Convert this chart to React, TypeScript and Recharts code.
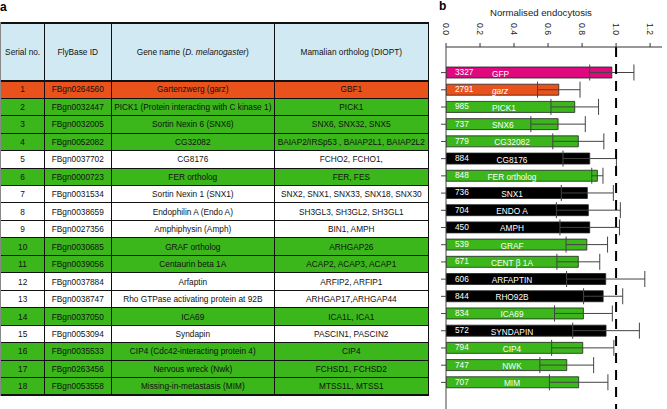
import { Bar, BarChart, Cell, ErrorBar, LabelList, ReferenceLine, XAxis, YAxis } from "recharts";

// panel a: table
const serialNos = ["1", "2", "3", "4", "5", "6", "7", "8", "9", "10", "11", "12", "13", "14", "15", "16", "17", "18"];
const flyBaseIds = [
  "FBgn0264560", "FBgn0032447", "FBgn0032005", "FBgn0052082", "FBgn0037702", "FBgn0000723",
  "FBgn0031534", "FBgn0038659", "FBgn0027356", "FBgn0030685", "FBgn0039056", "FBgn0037884",
  "FBgn0038747", "FBgn0037050", "FBgn0053094", "FBgn0035533", "FBgn0263456", "FBgn0053558",
];
const geneNames = [
  "Gartenzwerg (garz)", "PICK1 (Protein interacting with C kinase 1)", "Sortin Nexin 6 (SNX6)", "CG32082",
  "CG8176", "FER ortholog", "Sortin Nexin 1 (SNX1)", "Endophilin A (Endo A)", "Amphiphysin (Amph)",
  "GRAF ortholog", "Centaurin beta 1A", "Arfaptin", "Rho GTPase activating protein at 92B", "ICA69",
  "Syndapin", "CIP4 (Cdc42-interacting protein 4)", "Nervous wreck (Nwk)", "Missing-in-metastasis (MIM)",
];
const orthologs = [
  "GBF1", "PICK1", "SNX6, SNX32, SNX5", "BAIAP2/IRSp53 , BAIAP2L1, BAIAP2L2", "FCHO2, FCHO1,", "FER, FES",
  "SNX2, SNX1, SNX33, SNX18, SNX30", "SH3GL3, SH3GL2, SH3GL1", "BIN1, AMPH", "ARHGAP26", "ACAP2, ACAP3, ACAP1",
  "ARFIP2, ARFIP1", "ARHGAP17,ARHGAP44", "ICA1L, ICA1", "PASCIN1, PASCIN2", "CIP4", "FCHSD1, FCHSD2", "MTSS1L, MTSS1",
];
const rowGroups = [
  "garz", "hit", "hit", "hit", "miss", "hit", "miss", "miss", "miss",
  "hit", "hit", "miss", "miss", "hit", "miss", "hit", "hit", "hit",
];

// panel b: bars
const barNames = [
  "GFP", "garz", "PICK1", "SNX6", "CG32082", "CG8176", "FER ortholog", "SNX1", "ENDO A", "AMPH",
  "GRAF", "CENT β 1A", "ARFAPTIN", "RHO92B", "ICA69", "SYNDAPIN", "CIP4", "NWK", "MIM",
];
const barCounts = [3327, 2791, 985, 737, 779, 884, 848, 736, 704, 450, 539, 671, 606, 844, 834, 572, 794, 747, 707];
const barValues = [0.975, 0.663, 0.757, 0.659, 0.778, 0.845, 0.89, 0.831, 0.837, 0.845, 0.828, 0.778, 0.939, 0.924, 0.808, 0.941, 0.804, 0.71, 0.78];
const barErrors = [0.13, 0.125, 0.14, 0.16, 0.15, 0.157, 0.033, 0.153, 0.188, 0.175, 0.122, 0.126, 0.23, 0.115, 0.17, 0.196, 0.183, 0.158, 0.172];
const barGroups = ["gfp", "garz", "hit", "hit", "hit", "miss", "hit", "miss", "miss", "miss", "hit", "hit", "miss", "miss", "hit", "miss", "hit", "hit", "hit"];
const xTicks = [0, 0.2, 0.4, 0.6, 0.8, 1.0, 1.2];

const COLORS: Record<string, string> = {
  gfp: "#e0087e",
  garz: "#e9521b",
  hit: "#3bb61b",
  miss: "#000000",
};
const ROW_BG: Record<string, string> = { garz: "#e9521b", hit: "#3bb61b", miss: "#ffffff" };

const FONT = "'Liberation Sans', Arial, sans-serif";
const colX = [1, 44.3, 111.3, 274.3, 428.3];
const tableTop = 22.7;
const headH = 58;
const rowH = 17.47;

const data = barNames.map((name, i) => ({
  name,
  n: barCounts[i],
  value: barValues[i],
  err: barErrors[i],
  group: barGroups[i],
}));

function Cellbox({ x0, x1, y, h, bg, children }: any) {
  return (
    <div
      style={{
        position: "absolute",
        left: x0,
        top: y,
        width: x1 - x0,
        height: h,
        background: bg,
        display: "flex",
        alignItems: "center",
        justifyContent: "center",
        textAlign: "center",
        fontSize: 8.3,
        color: "#111",
        whiteSpace: "nowrap",
      }}
    >
      {children}
    </div>
  );
}

function Table() {
  const headers: any[] = [
    "Serial no.",
    "FlyBase ID",
    <span>
      Gene name (<i>D. melanogaster</i>)
    </span>,
    "Mamalian ortholog  (DIOPT)",
  ];
  const bottom = tableTop + headH + rowH * serialNos.length;
  return (
    <div style={{ position: "absolute", left: 0, top: 0, fontFamily: FONT }}>
      {headers.map((h, c) => (
        <Cellbox key={c} x0={colX[c]} x1={colX[c + 1]} y={tableTop} h={headH} bg="#d1e9f3">
          {h}
        </Cellbox>
      ))}
      {serialNos.map((s, r) => {
        const y = tableTop + headH + r * rowH;
        const cells = [s, flyBaseIds[r], geneNames[r], orthologs[r]];
        return cells.map((t, c) => (
          <Cellbox key={r + "-" + c} x0={colX[c]} x1={colX[c + 1]} y={y} h={rowH} bg={ROW_BG[rowGroups[r]]}>
            {t}
          </Cellbox>
        ));
      })}
      {/* horizontal rules */}
      {serialNos.map((_, r) => (
        <div
          key={"h" + r}
          style={{
            position: "absolute",
            left: colX[0],
            top: tableTop + headH + r * rowH - 0.5,
            width: colX[4] - colX[0],
            height: r === 0 ? 2 : 1,
            background: "#111",
          }}
        />
      ))}
      <div style={{ position: "absolute", left: colX[0], top: tableTop - 1, width: colX[4] - colX[0], height: 2, background: "#111" }} />
      <div style={{ position: "absolute", left: colX[0], top: bottom - 1, width: colX[4] - colX[0], height: 2, background: "#111" }} />
      {colX.map((x, c) => (
        <div
          key={"v" + c}
          style={{
            position: "absolute",
            left: x - 0.75,
            top: tableTop - 1,
            width: c === 0 ? 1 : 1.5,
            height: bottom - tableTop + 2,
            background: c === 0 ? "#888" : "#111",
          }}
        />
      ))}
    </div>
  );
}

function RotTick({ x, payload }: any) {
  return (
    <text
      x={x}
      y={35}
      transform={`rotate(90, ${x}, 35)`}
      textAnchor="end"
      dominantBaseline="central"
      fontSize={8.6}
      fontFamily={FONT}
      fill="#222"
    >
      {payload.value.toFixed(1)}
    </text>
  );
}

function CountLabel({ x, y, height, value }: any) {
  return (
    <text x={x + 9} y={y + height / 2 - 0.5} dominantBaseline="central" fontSize={8.3} fontFamily={FONT} fill="#fff">
      {value}
    </text>
  );
}

function NameLabel({ x, y, height, value, index }: any) {
  const early = index < 4;
  return (
    <text
      x={early ? x + 46 : x + 66}
      y={y + height / 2 + 1}
      textAnchor={early ? "start" : "middle"}
      dominantBaseline="central"
      fontSize={8.3}
      fontStyle={value === "garz" ? "italic" : "normal"}
      fontFamily={FONT}
      fill="#fff"
    >
      {value}
    </text>
  );
}

export default function App() {
  return (
    <div style={{ position: "absolute", left: 0, top: 0, width: 667, height: 409, background: "#fff", overflow: "hidden" }}>
      <div style={{ position: "absolute", left: 0, top: 0, fontFamily: FONT, fontWeight: "bold", fontSize: 12 }}>a</div>
      <div style={{ position: "absolute", left: 439, top: -1, fontFamily: FONT, fontWeight: "bold", fontSize: 12 }}>b</div>
      <div
        style={{
          position: "absolute",
          left: 440,
          width: 202,
          top: 7,
          textAlign: "center",
          fontFamily: FONT,
          fontSize: 9.6,
          color: "#222",
        }}
      >
        Normalised endocytosis
      </div>
      <Table />
      <div style={{ position: "absolute", left: 436, top: 0 }}>
        <BarChart
          width={231}
          height={409}
          data={data}
          layout="vertical"
          margin={{ top: 0, right: 5, bottom: 0, left: 0 }}
          barSize={11}
        >
          <XAxis
            type="number"
            orientation="top"
            domain={[0, 1.27]}
            ticks={xTicks}
            height={47}
            tickSize={4}
            tick={<RotTick />}
            stroke="#333"
            allowDataOverflow
          />
          <YAxis
            type="category"
            dataKey="name"
            width={10}
            tickSize={5}
            tickFormatter={() => ""}
            stroke="#444"
            padding={{ top: 17, bottom: 18 }}
          />
          <Bar dataKey="value" stroke="#222" strokeWidth={0.8} isAnimationActive={false}>
            {data.map((d, i) => (
              <Cell key={i} fill={COLORS[d.group]} />
            ))}
            <ErrorBar dataKey="err" direction="x" width={8} stroke="#444" strokeWidth={1} />
            <LabelList dataKey="n" content={<CountLabel />} />
            <LabelList dataKey="name" content={<NameLabel />} />
          </Bar>
          <ReferenceLine x={1} stroke="#000" strokeWidth={2} strokeDasharray="10 7" />
        </BarChart>
      </div>
    </div>
  );
}
